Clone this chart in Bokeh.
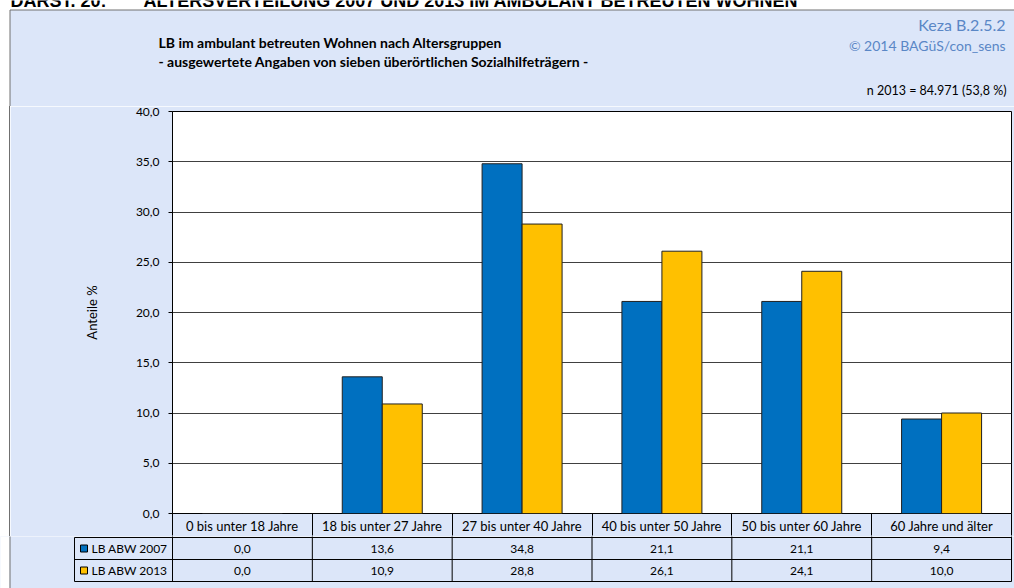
from bokeh.plotting import figure
from bokeh.layouts import column, row
from bokeh.models import (Range1d, ColumnDataSource, FixedTicker, CustomJSTickFormatter,
                          LinearAxis, Div)
from bokeh.transform import dodge
from bokeh.embed import file_html
from bokeh.resources import INLINE
from bokeh.core.properties import value

# ---------------- data ----------------
categories = ["0 bis unter 18 Jahre", "18 bis unter 27 Jahre", "27 bis unter 40 Jahre",
              "40 bis unter 50 Jahre", "50 bis unter 60 Jahre", "60 Jahre und älter"]
series_names = ["LB ABW 2007", "LB ABW 2013"]
values_2007 = [0.0, 13.6, 34.8, 21.1, 21.1, 9.4]
values_2013 = [0.0, 10.9, 28.8, 26.1, 24.1, 10.0]
y_ticks = [0, 5, 10, 15, 20, 25, 30, 35, 40]
series_colors = ["#0070C0", "#FFC000"]

heading_parts = ["DARST. 20:", "ALTERSVERTEILUNG 2007 UND 2013 IM AMBULANT BETREUTEN WOHNEN"]
title_lines = ["LB im ambulant betreuten Wohnen nach Altersgruppen",
               "- ausgewertete Angaben von sieben überörtlichen Sozialhilfeträgern -"]
source_lines = ["Keza B.2.5.2", "© 2014 BAGüS/con_sens"]
n_note = "n 2013 = 84.971 (53,8 %)"
y_label = "Anteile %"

# ---------------- layout constants ----------------
BG = "#DCE6F9"
BOX_LINE = "#707070"
FONT = "Lato"
TOTAL_W, TOTAL_H = 1014, 588
FRAME_L, FRAME_R = 172, 1011        # plot area (page pixels)
FRAME_T, FRAME_B = 111, 515
BOX_X, BOX_Y = 9.5, 9.5             # outer light-blue box edge
NC = len(categories)
CW = (FRAME_R - FRAME_L) / NC       # pixels per category
YMAX = 40
ROW = 22

A_H = 106                           # header strip height
B_TOP = FRAME_T - A_H               # chart border above frame
B_BOT = ROW - 1                     # header row of the table lives in the chart's bottom border
B_H = B_TOP + (FRAME_B - FRAME_T) + B_BOT
S_W = 10                            # left strip width
C_TOP = A_H + B_H                   # page y where table strip starts
C_H = TOTAL_H - C_TOP


def fmt(v):
    return f"{v:.1f}".replace(".", ",")


def plain(w, h, xr, yr, bg=BG):
    f = figure(width=w, height=h, x_range=xr, y_range=yr,
               x_axis_location=None, y_axis_location=None,
               toolbar_location=None, output_backend="svg",
               min_border_left=0, min_border_right=0, min_border_top=0, min_border_bottom=0,
               background_fill_color=bg, border_fill_color=bg, outline_line_color=None)
    f.grid.visible = False
    return f


def txt(f, xs, ys, texts, size="12px", style="normal", color="black", align="center",
        baseline="middle", font=FONT):
    f.text(x=xs, y=ys, text=texts, text_font=value(font), text_font_size=value(size),
           text_font_style=value(style), text_color=value(color),
           text_align=value(align), text_baseline=value(baseline))


# ---------------- A: header strip (page pixel coordinates, y downwards) ----------------
A = plain(TOTAL_W, A_H, Range1d(0, TOTAL_W), Range1d(A_H, 0), bg="white")
A.quad(left=[BOX_X], right=[TOTAL_W + 50], top=[BOX_Y], bottom=[A_H + 50],
       fill_color=BG, line_color=BOX_LINE, line_width=1)
txt(A, [10, 143], [0, 0], heading_parts, size="18px", style="bold", align="left",
    baseline="alphabetic", font="Liberation Sans")
txt(A, [158, 158], [42, 61], title_lines, size="14px", style="bold", align="left")
txt(A, [1005], [24], source_lines[:1], size="16px", color="#5A87C6", align="right")
txt(A, [1005], [45], source_lines[1:], size="14px", color="#5A87C6", align="right")
txt(A, [1006], [90], [n_note], size="12.5px", align="right")

# ---------------- S: left margin strip next to chart (white with the box's edge) ----------------
S = Div(text="", width=S_W, height=B_H, margin=0,
        styles={"background-color": "white", "box-sizing": "border-box",
                "border-right": f"1px solid {BOX_LINE}"})

# ---------------- B: chart (x in category units) ----------------
B = figure(width=TOTAL_W - S_W, height=B_H,
           x_range=Range1d(0, NC), y_range=Range1d(0, YMAX),
           x_axis_location=None, output_backend="svg", toolbar_location=None,
           min_border_left=FRAME_L - S_W, min_border_right=TOTAL_W - FRAME_R,
           min_border_top=B_TOP, min_border_bottom=B_BOT,
           background_fill_color="white", border_fill_color=BG)
B.outline_line_color = "black"
B.outline_line_width = 1

ax = B.yaxis[0]
ax.ticker = FixedTicker(ticks=y_ticks)
ax.formatter = CustomJSTickFormatter(code="return tick.toFixed(1).replace('.', ',');")
ax.axis_line_color = "black"
ax.major_tick_line_color = "black"
ax.major_tick_in = 0
ax.major_tick_out = 4
ax.minor_tick_line_color = None
ax.major_label_standoff = 9
ax.major_label_text_font = FONT
ax.major_label_text_font_size = "12px"
ax.major_label_text_color = "black"
ax.axis_label = y_label
ax.axis_label_text_font = FONT
ax.axis_label_text_font_size = "13px"
ax.axis_label_text_font_style = "normal"
ax.axis_label_text_color = "black"
ax.axis_label_standoff = 33

B.xgrid.visible = False
B.ygrid.grid_line_color = "#404040"
B.ygrid.grid_line_width = 1

# category axis = header row of the data table (labels at centres, cell dividers as minor ticks)
centers = [i + 0.5 for i in range(NC)]
hx = LinearAxis(ticker=FixedTicker(ticks=centers, minor_ticks=list(range(NC + 1))),
                formatter=CustomJSTickFormatter(args=dict(cats=categories),
                                                code="return cats[Math.floor(tick)];"))
hx.axis_line_color = None
hx.major_tick_line_color = None
hx.major_tick_in = 0
hx.major_tick_out = 0
hx.minor_tick_line_color = "black"
hx.minor_tick_in = 0
hx.minor_tick_out = ROW
hx.major_label_standoff = 4 - ROW
hx.major_label_text_font = FONT
hx.major_label_text_font_size = "13px"
hx.major_label_text_color = "black"
B.add_layout(hx, "below")

src = ColumnDataSource(dict(pos=centers, v07=values_2007, v13=values_2013))
BAR_W = 40 / CW
B.vbar(x=dodge("pos", -BAR_W / 2), top="v07", width=BAR_W, source=src,
       fill_color=series_colors[0], line_color="#202020", line_width=1)
B.vbar(x=dodge("pos", BAR_W / 2), top="v13", width=BAR_W, source=src,
       fill_color=series_colors[1], line_color="#202020", line_width=1)

# ---------------- C: data rows (x in category units, y in table rows downward) ----------------
x0 = -FRAME_L / CW
x1 = (TOTAL_W - FRAME_L) / CW
C = plain(TOTAL_W, C_H, Range1d(x0, x1),
          Range1d((TOTAL_H - FRAME_B) / ROW, (C_TOP - FRAME_B) / ROW), bg=BG)
box_x = (BOX_X - FRAME_L) / CW
C.quad(left=[x0 - 1], right=[box_x - 0.5 / CW], top=[-1], bottom=[5], fill_color="white", line_color=None)
C.segment(x0=[box_x], y0=[-1], x1=[box_x], y1=[5], line_color=BOX_LINE, line_width=1)

LEG_L = (74 - FRAME_L) / CW
C.segment(x0=[LEG_L] * 3, y0=[1, 2, 3], x1=[NC] * 3, y1=[1, 2, 3], line_color="black", line_width=1)
C.segment(x0=list(range(NC + 1)), y0=[0.5] * (NC + 1), x1=list(range(NC + 1)), y1=[3] * (NC + 1),
          line_color="black", line_width=1)
C.segment(x0=[LEG_L], y0=[1], x1=[LEG_L], y1=[3], line_color="black", line_width=1)

txt(C, centers, [1.5] * NC, [fmt(v) for v in values_2007])
txt(C, centers, [2.5] * NC, [fmt(v) for v in values_2013])
txt(C, [(91 - FRAME_L) / CW] * 2, [1.5, 2.5], series_names, align="left")
C.rect(x=[(83.5 - FRAME_L) / CW] * 2, y=[1.5, 2.5], width=7 / CW, height=7 / ROW,
       fill_color=series_colors, line_color="black", line_width=1)

layout = column(A, row(S, B, spacing=0), C, spacing=0)
open("out.html", "w").write(file_html(layout, INLINE))
